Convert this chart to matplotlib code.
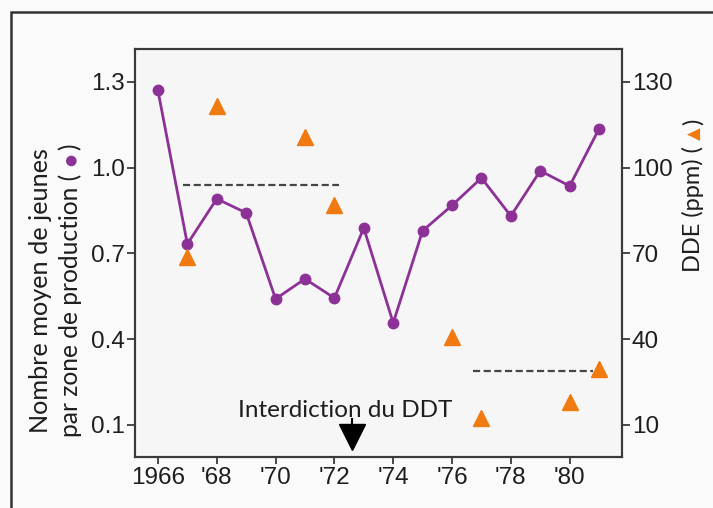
import matplotlib
matplotlib.use("Agg")
import matplotlib.pyplot as plt
from matplotlib.patches import Rectangle

# ---- data ----
years = [1966, 1967, 1968, 1969, 1970, 1971, 1972, 1973, 1974, 1975,
         1976, 1977, 1978, 1979, 1980, 1981]
young = [1.27, 0.733, 0.891, 0.842, 0.541, 0.611, 0.544, 0.789, 0.457, 0.779,
         0.868, 0.964, 0.831, 0.989, 0.936, 1.136]
dde_years = [1967, 1968, 1971, 1972, 1976, 1977, 1980, 1981]
dde_ppm = [68.8, 121.6, 110.8, 87.0, 40.8, 12.4, 18.0, 29.6]
mean_before = (1966.85, 1972.15, 94.0)
mean_after = (1976.7, 1980.8, 28.9)
ban_year = 1972.6
left_ticks = [0.1, 0.4, 0.7, 1.0, 1.3]
right_ticks = [10, 40, 70, 100, 130]
x_ticks = [1966, 1968, 1970, 1972, 1974, 1976, 1978, 1980]
x_labels = ["1966", "'68", "'70", "'72", "'74", "'76", "'78", "'80"]

W, H = 713, 508
PURPLE = "#8c3196"
ORANGE = "#f07a10"
SPINE = "#3a3a3a"
TXT = "#1e1e1e"

fig = plt.figure(figsize=(W / 100, H / 100), dpi=100, facecolor="#fafafa")
ax = fig.add_axes([135 / W, 1 - 457 / H, (622 - 135) / W, (457 - 49) / H])
ax.set_facecolor("#f6f6f6")

ylo, yhi = -0.012, 1.415
ax.set_ylim(ylo, yhi)
ax.set_xlim(1965.22, 1981.78)

ax.plot(years, young, color=PURPLE, lw=2, marker="o", ms=7.5, zorder=3)

ax2 = ax.twinx()
ax2.set_ylim(ylo * 100, yhi * 100)
ax2.plot(dde_years, dde_ppm, ls="none", marker="^", ms=11.5, color=ORANGE,
         mec=ORANGE, zorder=3)
for x0, x1, v in (mean_before, mean_after):
    ax2.plot([x0, x1], [v, v], ls=(0, (3.2, 1.6)), color="#444444", lw=1.6,
             zorder=2)

# DDT ban annotation
ax.text(1972.36, 0.128, "Interdiction du DDT", ha="center", va="baseline",
        fontsize=17.5, family=["Lato", "DejaVu Sans"], color=TXT, zorder=4)
ax.plot([ban_year, ban_year], [0.122, 0.09], color="black", lw=1.5, zorder=4)
ax.plot([ban_year], [0.058], marker="v", ms=19, color="black", zorder=4)

for a in (ax, ax2):
    for s in a.spines.values():
        s.set_color(SPINE)
        s.set_linewidth(1.5)
        s.set_zorder(5)

tick_font = dict(family=["Liberation Sans", "DejaVu Sans"], size=17.5)
ax.set_yticks(left_ticks)
ax.set_yticklabels([f"{t:.1f}" for t in left_ticks], fontdict=tick_font, color=TXT)
ax.set_xticks(x_ticks)
ax.set_xticklabels(x_labels, fontdict=tick_font, color=TXT)
ax2.set_yticks(right_ticks)
ax2.set_yticklabels([str(t) for t in right_ticks], fontdict=tick_font, color=TXT)
ax.tick_params(axis="y", direction="out", length=6, width=1.3, color=SPINE, pad=1)
ax.tick_params(axis="x", direction="out", length=5, width=1.3, color=SPINE, pad=2.5)
ax2.tick_params(axis="y", direction="out", length=6, width=1.3, color=SPINE, pad=1)

lab_font = ["Lato", "DejaVu Sans"]
def ftext(x, y, s, **kw):
    fig.text(x / W, 1 - y / H, s, rotation=90, ha="center", **kw)

ftext(41, 433, "Nombre moyen de jeunes", va="bottom", fontsize=18.2,
      family=lab_font, color=TXT)
ftext(70, 437, "par zone de production (", va="bottom", fontsize=17.7,
      family=lab_font, color=TXT)
ftext(71, 160, "\u25CF", va="center", fontsize=10, family=["DejaVu Sans"],
      color=PURPLE)
ftext(70, 144, ")", va="top", fontsize=17.7, family=lab_font, color=TXT)

ftext(693, 272, "DDE (ppm) (", va="bottom", fontsize=17, family=lab_font,
      color=TXT)
ftext(695, 134, "\u25B2", va="center", fontsize=12, family=["DejaVu Sans"],
      color=ORANGE)
ftext(693, 119, ")", va="top", fontsize=17, family=lab_font, color=TXT)

# outer frame
fig.patches.append(Rectangle((11 / W, -0.05), 1.2, 1 - 12 / H + 0.05,
                             transform=fig.transFigure, fill=False,
                             edgecolor="#333333", lw=1.8))

fig.savefig("out.png", dpi=100, facecolor=fig.get_facecolor())
